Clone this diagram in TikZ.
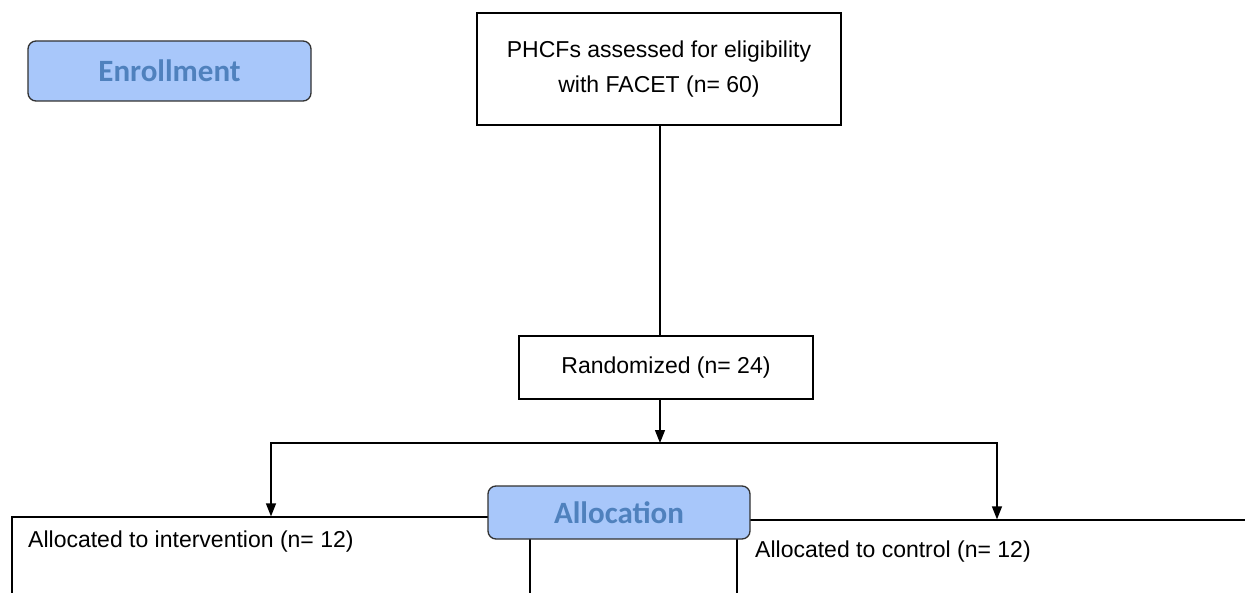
\documentclass[tikz,border=0pt]{standalone}
\usepackage{fontspec}
\setmainfont{Liberation Sans}
\newfontfamily\calib{Carlito}
\usetikzlibrary{arrows.meta}
\definecolor{hdrfill}{RGB}{168,199,250}
\definecolor{hdrtext}{RGB}{79,129,189}
\definecolor{hdrdraw}{RGB}{50,50,50}
\begin{document}
\begin{tikzpicture}[x=1pt,y=-1pt,
  box/.style={draw=black, line width=1.3pt, inner sep=0pt, fill=white},
  hdr/.style={draw=hdrdraw, fill=hdrfill, rounded corners=8pt, line width=1.3pt, text=hdrtext, font=\calib\bfseries\fontsize{31}{36}\selectfont, inner sep=0pt},
  txt/.style={font=\fontsize{23}{35}\selectfont, inner sep=0pt},
  arr/.style={-{Triangle[length=13pt,width=10pt]}, line width=1.3pt},
  conn/.style={line width=1.3pt}]
\clip (0,0) rectangle (1245,593);
\fill[white] (0,0) rectangle (1245,593);
% boxes
\node[box, minimum width=364pt, minimum height=112pt, align=center, txt] (assess) at (659,69)
  {PHCFs assessed for eligibility\\with FACET (n= 60)};
\node[box, minimum width=294pt, minimum height=63pt, txt] (rand) at (666,367.5) {Randomized (n= 24)};
\node[box, minimum width=518pt, minimum height=200pt] (leftbox) at (271,617) {};
\node[box, minimum width=520pt, minimum height=200pt] (rightbox) at (997,620) {};
\node[txt, anchor=west] (lefttxt) at (28,542) {Allocated to intervention (n= 12)};
\node[txt, anchor=west] (righttxt) at (755,552) {Allocated to control (n= 12)};
% headers
\node[hdr, minimum width=283pt, minimum height=60pt] (enroll) at (169.5,71) {Enrollment};
% connectors
\coordinate (split) at (660,443);
\draw[conn] (assess.south -| split) -- (rand.north -| split);
\draw[arr] (rand.south -| split) -- (split);
\draw[arr] (split) -| (leftbox.north);
\draw[arr] (split) -| (rightbox.north);
\node[hdr, minimum width=262pt, minimum height=53pt] (alloc) at (619,512.5) {Allocation};
\end{tikzpicture}
\end{document}
